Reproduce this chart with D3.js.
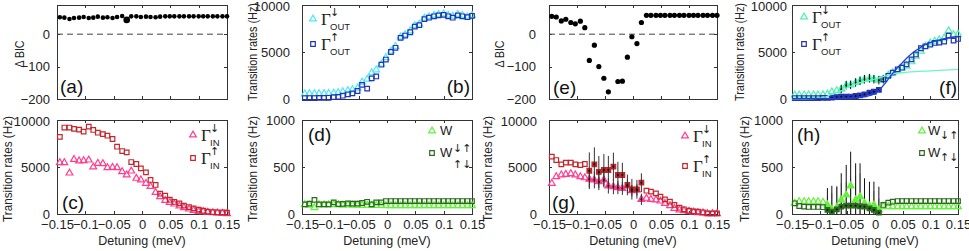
<!DOCTYPE html>
<html>
<head>
<meta charset="utf-8">
<style>
  html, body { margin: 0; padding: 0; background: #fff; }
  svg { display: block; }
  .axis text { font: 13px "Liberation Sans", Arial, sans-serif; fill: #222; }
  .axis line { stroke: #333; shape-rendering: crispEdges; }
  .axis path { display: none; }
  .box { fill: none; stroke: #333; shape-rendering: crispEdges; }
  .ylab, .xlab { font: 12.5px "Liberation Sans", Arial, sans-serif; fill: #222; }
  .plab { font: 19px "Liberation Sans", Arial, sans-serif; fill: #111; }
  .gam { font: 17px "Liberation Serif", serif; fill: #222; }
  .arr { font: 11px "DejaVu Sans", sans-serif; fill: #222; }
  .sub { font: 9.5px "Liberation Sans", sans-serif; fill: #222; }
  .leg { font: 13px "Liberation Sans", sans-serif; fill: #222; }
</style>
</head>
<body>
<svg id="fig" width="969" height="251"></svg>
<script src="https://cdnjs.cloudflare.com/ajax/libs/d3/7.8.5/d3.min.js"></script>
<script>
// detuning of each measured point (meV)
var detuning = [-0.145, -0.137, -0.128, -0.120, -0.111, -0.103, -0.094, -0.086, -0.078, -0.069,
                -0.061, -0.052, -0.044, -0.035, -0.027, -0.019, -0.010, -0.002, 0.007, 0.015,
                0.024, 0.032, 0.041, 0.049, 0.057, 0.066, 0.074, 0.083, 0.091, 0.100,
                0.108, 0.116, 0.125, 0.133, 0.142, 0.150];

var xTicks = [-0.15, -0.1, -0.05, 0, 0.05, 0.1, 0.15];
var xTickLabels = ["\u22120.15", "\u22120.1", "\u22120.05", "0", "0.05", "0.1", "0.15"];
var bicTicks = [-200, -100, 0], bicTickLabels = ["\u2212200", "\u2212100", "0"];
var rateTicks = [0, 5000, 10000], rateTickLabels = ["0", "5000", "10000"];
var wTicks = [0, 500, 1000], wTickLabels = ["0", "500", "1000"];

// (a) and (e): Delta BIC
var bicA = [52, 51, 47, 50, 51, 53, 50, 51, 54, 51, 52, 50, 53, 56, 44, 55, 55, 53, 54, 53,
            52, 54, 55, 55, 55, 55, 55, 55, 55, 55, 55, 55, 55, 55, 55, 55];
var bicE = [55, 53, 41, 46, 36, 32, 40, 20, -81, -34, -100, -136, -178, null, -146, -145, -71, -8, -29, 36,
            58, 58, 58, 58, 58, 58, 58, 58, 58, 58, 58, 58, 58, 58, 58, 58];

// (b) out rates
var outDownB = [550, 560, 560, 570, 580, 600, 620, 680, 780, 880, 1000, 1150, 1800, 2100, 2800, 3100, 3700, 4400, 5100, 5600,
                6600, 6850, 7250, 7800, 7950, 8600, 8750, 8900, 9000, 9050, 8900, 8800, 9000, 8900, 8750, 8900];
var outUpB = [100, 100, 100, 110, 120, 130, 200, 230, 350, 500, 600, 850, 1500, 1100, 2200, 2400, 3650, 4200, 5000, 5450,
              6500, 6750, 7100, 7700, 7850, 8500, 8650, 8800, 8900, 8950, 8800, 8650, 8900, 8800, 8700, 8850];

// (c) in rates
var inDownC = [5460, 5460, 4360, 5800, 5640, 5670, 5740, 5000, 5390, 5350, 4930, 4960, 4930, 4500, 4150, 4570, 3800, 3620, 3260, 2940,
               2300, 1840, 1450, 1240, 1060, 850, 670, 530, 390, 280, 250, 180, 140, 110, 70, 40];
var inUpC = [8200, 9200, 9200, 9050, 8970, 8760, 9300, 8940, 8650, 8500, 8330, 7980, 7160, 6700, 6560, 5530, 5320, 4860, 4430, 3620,
             3090, 2160, 1950, 1520, 1280, 1130, 890, 740, 600, 460, 350, 250, 210, 180, 180, 140];

// (d) W rates
var wDownUpD = [100, 95, 67, 100, 98, 98, 100, 100, 95, 98, 95, 95, 92, 95, 90, 92, 90, 88, 88, 88,
                88, 88, 88, 88, 88, 88, 88, 88, 88, 88, 88, 88, 88, 88, 88, 88];
var wUpDownD = [103, 110, 150, 103, 103, 103, 124, 105, 108, 112, 110, 110, 117, 130, 103, 124, 124, 138, 138, 138,
                138, 138, 138, 138, 138, 138, 138, 138, 138, 138, 138, 138, 138, 138, 138, 138];

// (f) out rates, second device, with fits
var outDownF = [420, 420, 430, 430, 430, 440, 450, 530, 770, 880, 1050, 1470, 1500, 1750, 1930, 2100, 2200, 2100, 2000, 2100,
                2530, 2800, 3000, 3300, 3500, 3960, 4560, 5090, 5610, 5960, 6140, 6300, 6500, 7260, 6840, 6900];
var outUpF = [100, 100, 100, 100, 100, 100, 110, 120, 140, 210, 250, 250, 260, 320, 390, 490, 670, 770, 980, 2100,
              2460, 2800, 3160, 3330, 3680, 4210, 4740, 5400, 5610, 5790, 5960, 6000, 6100, 6740, 6210, 6390];
var errOutDownF = [0, 0, 0, 0, 0, 0, 0, 0, 0, 0, 450, 450, 450, 450, 450, 450, 450, 450, 450, 450,
                   0, 0, 0, 0, 0, 0, 0, 0, 0, 0, 0, 0, 0, 0, 0, 0];
var fitDownX = [-0.15, -0.11, -0.09, -0.08, -0.06, -0.045, -0.03, -0.01, 0.01, 0.027, 0.045, 0.063, 0.1, 0.15];
var fitDownF = [20, 50, 200, 450, 900, 1350, 1700, 1950, 2300, 2600, 2780, 2880, 3000, 3160];
var fitUpX = [-0.15, -0.06, -0.03, -0.01, 0.0, 0.01, 0.02, 0.03, 0.04, 0.05, 0.06, 0.07, 0.08, 0.09, 0.10, 0.12, 0.15];
var fitUpF = [30, 60, 150, 350, 600, 1100, 1800, 2600, 3300, 3900, 4500, 5000, 5400, 5750, 6000, 6350, 6650];

// (g) in rates, second device
var inDownG = [3260, 3970, 4150, 4220, 4290, 4150, 3970, 3850, 3700, 3620, 3440, 3620, 2980, 2900, 2800, 2730, 2980, 2480, 2550, 1560,
               1670, 1560, 1490, 1380, 1130, 890, 600, 430, 350, 280, 210, 140, 110, 40, 35, 35];
var inUpG = [6100, 5740, 5280, 5460, 5460, 5280, 5210, 5320, 4600, 5290, 4470, 4680, 4680, 5030, 4150, 4150, 3090, 2630, 2630, 3330,
             2480, 2380, 2200, 1840, 1560, 1310, 960, 670, 500, 350, 280, 250, 180, 70, 70, 70];
var errInUpG = [0, 0, 0, 0, 0, 0, 0, 0, 1950, 1800, 1700, 1700, 1500, 1500, 1400, 1300, 1100, 1100, 1000, 1000,
                0, 0, 0, 0, 0, 0, 0, 0, 0, 0, 0, 0, 0, 0, 0, 0];
var errInDownG = [0, 0, 0, 0, 0, 0, 0, 0, 900, 900, 900, 800, 800, 800, 700, 700, 700, 600, 600, 600,
                  0, 0, 0, 0, 0, 0, 0, 0, 0, 0, 0, 0, 0, 0, 0, 0];

// (h) W rates, second device
var wDownUpH = [114, 131, 131, 131, 131, 131, 125, 96, 50, 70, 149, 202, 298, 149, 184, 114, 85, 96, 43, 80,
                78, 78, 78, 78, 78, 78, 78, 78, 78, 78, 78, 78, 78, 78, 78, 78];
var wUpDownH = [114, 85, 78, 75, 75, 75, 72, 43, 25, 50, 78, 89, 89, 89, 80, 78, 60, 43, 14, 96,
                120, 131, 138, 138, 138, 138, 138, 138, 138, 138, 138, 138, 138, 138, 138, 138];
var errWDownUpH = [0, 0, 0, 0, 0, 0, 0, 180, 250, 220, 285, 320, 365, 390, 355, 266, 259, 248, 247, 0,
                   0, 0, 0, 0, 0, 0, 0, 0, 0, 0, 0, 0, 0, 0, 0, 0];
var errWUpDownH = [0, 0, 0, 0, 0, 0, 0, 150, 200, 250, 250, 250, 300, 320, 350, 250, 200, 200, 150, 0,
                   0, 0, 0, 0, 0, 0, 0, 0, 0, 0, 0, 0, 0, 0, 0, 0];

var cPink = "#ff3f8e", cRed = "#c1272d", cCyan = "#4fe6f7", cBlue = "#2435b4",
    cLime = "#62f23a", cGreen = "#2d6a1f", cAqua = "#4ff0b4", cAquaLine = "#6cf5c6", cBlueLine = "#2140d8";

var cols = [[57, 227], [302, 472], [549, 717], [792, 958]];
var rows = [[5, 99], [120, 214]];

var svg = d3.select("#fig");

function panel(o) {
    var x = d3.scaleLinear().domain([-0.15, 0.15]).range(cols[o.col]);
    var y = d3.scaleLinear().domain(o.yDomain).range([rows[o.row][1], rows[o.row][0]]);
    var x0 = cols[o.col][0], x1 = cols[o.col][1], y0 = rows[o.row][0], y1 = rows[o.row][1];
    var g = svg.append("g");

    g.append("g").attr("class", "axis").attr("transform", "translate(0," + y1 + ")")
        .call(d3.axisBottom(x).tickValues(xTicks).tickSizeInner(-3).tickSizeOuter(0).tickPadding(6)
            .tickFormat(function(d, i) { return o.row == 1 ? xTickLabels[i] : ""; }));
    g.append("g").attr("class", "axis").attr("transform", "translate(0," + y0 + ")")
        .call(d3.axisTop(x).tickValues(xTicks).tickSizeInner(-3).tickSizeOuter(0).tickFormat(""));
    g.append("g").attr("class", "axis").attr("transform", "translate(" + x0 + ",0)")
        .call(d3.axisLeft(y).tickValues(o.yTicks).tickSizeInner(-3).tickSizeOuter(0).tickPadding(o.gap)
            .tickFormat(function(d, i) { return o.yLabels[i]; }));
    g.append("g").attr("class", "axis").attr("transform", "translate(" + x1 + ",0)")
        .call(d3.axisRight(y).tickValues(o.yTicks).tickSizeInner(-3).tickSizeOuter(0).tickFormat(""));

    // keep the top "10000" inside the page
    g.selectAll(".axis text").filter(function() { return this.textContent == "10000"; })
        .attr("dy", "0.45em");

    g.append("rect").attr("class", "box")
        .attr("x", x0 + 0.5).attr("y", y0 + 0.5)
        .attr("width", x1 - x0).attr("height", y1 - y0);

    var isBic = o.yTitle.charAt(0) == "\u0394";
    g.append("text").attr("class", "ylab")
        .attr("transform", "translate(" + o.yTitleX + "," + (isBic ? 54 : (o.row == 0 ? 52 : 169)) + ") rotate(-90)")
        .attr("text-anchor", "middle").attr("dy", "0.35em")
        .attr("textLength", isBic ? 27 : (o.row == 0 ? 98 : 106))
        .attr("lengthAdjust", "spacingAndGlyphs")
        .text(o.yTitle);

    if (o.row == 1) {
        g.append("text").attr("class", "xlab")
            .attr("x", (x0 + x1) / 2).attr("y", 245)
            .attr("text-anchor", "middle")
            .text("Detuning (meV)");
    }

    g.append("text").attr("class", "plab")
        .attr("x", o.tag[0]).attr("y", o.tag[1])
        .attr("text-anchor", o.tag[2] || "start")
        .text(o.tagText);

    return {g: g, x: x, y: y};
}

function points(vals) {
    return detuning.map(function(d, i) { return {d: d, v: vals[i], i: i}; })
                   .filter(function(o) { return o.v != null; });
}

function inRange(i, r) { return r && i >= r[0] && i <= r[1]; }

// hollow markers, solid inside the index range `solid`
function scatter(p, vals, shape, color, solid) {
    var sym = d3.symbol().type(shape == "tri" ? d3.symbolTriangle : d3.symbolSquare)
                .size(shape == "tri" ? 20 : 21);
    p.g.append("g").selectAll("path")
        .data(points(vals))
        .enter().append("path")
        .attr("d", sym)
        .attr("transform", function(o) { return "translate(" + p.x(o.d) + "," + p.y(o.v) + ")"; })
        .attr("fill", function(o) { return inRange(o.i, solid) ? color : "none"; })
        .attr("stroke", color)
        .attr("stroke-width", 1.2);
}

function centreDots(p, vals, solid) {
    p.g.append("g").selectAll("circle")
        .data(points(vals).filter(function(o) { return inRange(o.i, solid); }))
        .enter().append("circle")
        .attr("cx", function(o) { return p.x(o.d); })
        .attr("cy", function(o) { return p.y(o.v); })
        .attr("r", 0.9)
        .attr("fill", "#000");
}

function errorBars(p, vals, errs, color) {
    p.g.append("g").selectAll("line")
        .data(points(vals).filter(function(o) { return errs[o.i] > 0; }))
        .enter().append("line")
        .attr("x1", function(o) { return p.x(o.d); })
        .attr("x2", function(o) { return p.x(o.d); })
        .attr("y1", function(o) { return p.y(Math.max(0, o.v - errs[o.i])); })
        .attr("y2", function(o) { return p.y(o.v + errs[o.i]); })
        .attr("stroke", color)
        .attr("stroke-width", 1);
}

function bicDots(p, vals, r, big) {
    p.g.append("line")
        .attr("x1", p.x(-0.15)).attr("x2", p.x(0.15))
        .attr("y1", p.y(0)).attr("y2", p.y(0))
        .attr("stroke", "#444").attr("stroke-dasharray", "6,4");
    p.g.append("g").selectAll("circle")
        .data(points(vals))
        .enter().append("circle")
        .attr("cx", function(o) { return p.x(o.d); })
        .attr("cy", function(o) { return p.y(o.v); })
        .attr("r", function(o) { return o.i == big ? r + 1 : r; })
        .attr("fill", "#000");
}

function legMarker(p, shape, color, cx, cy) {
    var sym = d3.symbol().type(shape == "tri" ? d3.symbolTriangle : d3.symbolSquare)
                .size(shape == "tri" ? 20 : 21);
    p.g.append("path").attr("d", sym)
        .attr("transform", "translate(" + cx + "," + cy + ")")
        .attr("fill", "none").attr("stroke", color).attr("stroke-width", 1.2);
}

// Gamma with arrow superscript and IN / OUT subscript
function gammaEntry(p, shape, color, gx, base, arrow, sub) {
    legMarker(p, shape, color, gx - 8, base - 6);
    p.g.append("text").attr("class", "gam").attr("x", gx).attr("y", base).text("\u0393");
    p.g.append("text").attr("class", "arr").attr("x", gx + 9).attr("y", base - 9).text(arrow);
    p.g.append("text").attr("class", "sub").attr("x", gx + 9).attr("y", base + 4.5).text(sub);
}

// ---- panels ----
var pa = panel({col: 0, row: 0, yDomain: [-200, 90], yTicks: bicTicks, yLabels: bicTickLabels, gap: 7,
                yTitle: "\u0394 BIC", yTitleX: 20, tag: [60, 93], tagText: "(a)"});
bicDots(pa, bicA, 2.3, 14);

var pb = panel({col: 1, row: 0, yDomain: [0, 10000], yTicks: rateTicks, yLabels: rateTickLabels, gap: 12,
                yTitle: "Transition rates (Hz)", yTitleX: 253, tag: [470, 93, "end"], tagText: "(b)"});
scatter(pb, outDownB, "tri", cCyan);
scatter(pb, outUpB, "sq", cBlue);
gammaEntry(pb, "tri", cCyan, 321, 25, "\u2193", "OUT");
gammaEntry(pb, "sq", cBlue, 321, 50, "\u2191", "OUT");

var pc = panel({col: 0, row: 1, yDomain: [0, 10000], yTicks: rateTicks, yLabels: rateTickLabels, gap: 7,
                yTitle: "Transition rates (Hz)", yTitleX: 8, tag: [62, 209], tagText: "(c)"});
scatter(pc, inDownC, "tri", cPink);
scatter(pc, inUpC, "sq", cRed);
gammaEntry(pc, "tri", cPink, 201, 141, "\u2193", "IN");
gammaEntry(pc, "sq", cRed, 201, 164, "\u2191", "IN");

var pd = panel({col: 1, row: 1, yDomain: [0, 1000], yTicks: wTicks, yLabels: wTickLabels, gap: 7,
                yTitle: "Transition rates (Hz)", yTitleX: 253, tag: [308, 141], tagText: "(d)"});
scatter(pd, wDownUpD, "tri", cLime);
scatter(pd, wUpDownD, "sq", cGreen);
legMarker(pd, "tri", cLime, 432, 131);
pd.g.append("text").attr("class", "leg").attr("x", 440).attr("y", 135).text("W");
legMarker(pd, "sq", cGreen, 432, 153);
pd.g.append("text").attr("class", "leg").attr("x", 440).attr("y", 157).text("W");
pd.g.append("text").attr("class", "arr").attr("x", 453).attr("y", 152).text("\u2193\u2191");
pd.g.append("text").attr("class", "arr").attr("x", 453).attr("y", 168).text("\u2191\u2193");

var pe = panel({col: 2, row: 0, yDomain: [-200, 90], yTicks: bicTicks, yLabels: bicTickLabels, gap: 13,
                yTitle: "\u0394 BIC", yTitleX: 500, tag: [553, 94], tagText: "(e)"});
bicDots(pe, bicE, 2.6, -1);

var pg = panel({col: 2, row: 1, yDomain: [0, 10000], yTicks: rateTicks, yLabels: rateTickLabels, gap: 12,
                yTitle: "Transition rates (Hz)", yTitleX: 488, tag: [552, 209], tagText: "(g)"});
scatter(pg, inDownG, "tri", cPink, [8, 19]);
scatter(pg, inUpG, "sq", cRed, [8, 19]);
errorBars(pg, inDownG, errInDownG, "#333");
errorBars(pg, inUpG, errInUpG, "#333");
centreDots(pg, inDownG, [8, 19]);
centreDots(pg, inUpG, [8, 19]);
gammaEntry(pg, "tri", cPink, 693, 142, "\u2193", "IN");
gammaEntry(pg, "sq", cRed, 693, 172, "\u2191", "IN");

var pf = panel({col: 3, row: 0, yDomain: [0, 10000], yTicks: rateTicks, yLabels: rateTickLabels, gap: 5,
                yTitle: "Transition rates (Hz)", yTitleX: 740, tag: [957, 94, "end"], tagText: "(f)"});
scatter(pf, outDownF, "tri", cAqua, [10, 19]);
scatter(pf, outUpF, "sq", cBlue, [8, 18]);
errorBars(pf, outDownF, errOutDownF, "#111");
centreDots(pf, outDownF, [10, 19]);
centreDots(pf, outUpF, [8, 18]);
var fitLine = d3.line().curve(d3.curveMonotoneX)
    .x(function(d) { return pf.x(d[0]); })
    .y(function(d) { return pf.y(d[1]); });
pf.g.append("path")
    .attr("d", fitLine(d3.zip(fitDownX, fitDownF)))
    .attr("fill", "none").attr("stroke", cAquaLine).attr("stroke-width", 1.3);
pf.g.append("path")
    .attr("d", fitLine(d3.zip(fitUpX, fitUpF)))
    .attr("fill", "none").attr("stroke", cBlueLine).attr("stroke-width", 1.3);
gammaEntry(pf, "tri", cAqua, 812, 23, "\u2193", "OUT");
gammaEntry(pf, "sq", cBlue, 812, 50, "\u2191", "OUT");

var ph = panel({col: 3, row: 1, yDomain: [0, 1000], yTicks: wTicks, yLabels: wTickLabels, gap: 9,
                yTitle: "Transition rates (Hz)", yTitleX: 745, tag: [797, 141], tagText: "(h)"});
errorBars(ph, wUpDownH, errWUpDownH, "#999");
errorBars(ph, wDownUpH, errWDownUpH, "#111");
scatter(ph, wDownUpH, "tri", cLime, [7, 18]);
scatter(ph, wUpDownH, "sq", cGreen, [7, 18]);
centreDots(ph, wUpDownH, [7, 18]);
legMarker(ph, "tri", cLime, 922, 131);
ph.g.append("text").attr("class", "leg").attr("x", 928).attr("y", 135).text("W");
ph.g.append("text").attr("class", "arr").attr("x", 940).attr("y", 139).text("\u2193\u2191");
legMarker(ph, "sq", cGreen, 922, 153);
ph.g.append("text").attr("class", "leg").attr("x", 928).attr("y", 157).text("W");
ph.g.append("text").attr("class", "arr").attr("x", 940).attr("y", 161).text("\u2191\u2193");
</script>
</body>
</html>
